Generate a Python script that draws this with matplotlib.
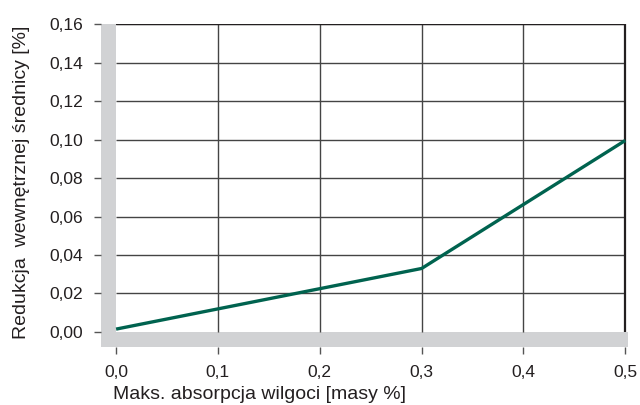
import numpy as np
import matplotlib.pyplot as plt

plt.rcParams['font.family'] = ['Liberation Sans', 'DejaVu Sans']

# data
absorpcja = [0.0, 0.3, 0.5]
redukcja = [0.0015, 0.033, 0.0995]
xticks = [0.0, 0.1, 0.2, 0.3, 0.4, 0.5]
yticks = [0.0, 0.02, 0.04, 0.06, 0.08, 0.10, 0.12, 0.14, 0.16]

txt = '#231f20'
grey = '#d1d2d4'
green = '#00634f'

fig = plt.figure(figsize=(6.4, 4.05), dpi=100)
ax = fig.add_axes([0.158, 0.1432, 0.823, 0.7975])

xmin, xmax = -0.0147, 0.5025
ymin, ymax = -0.0078, 0.16
ax.set_xlim(xmin, xmax)
ax.set_ylim(ymin, ymax)

# grey strips along the left and bottom
ax.axvspan(xmin, 0, color=grey, lw=0, zorder=1)
ax.axhspan(ymin, 0, color=grey, lw=0, zorder=1)

# grid drawn by hand so it stays inside the plotting area
ax.hlines(yticks[1:], 0, 0.5, color='#444444', lw=1.0, zorder=2)
ax.vlines(xticks[1:-1], 0, 0.16, color='#444444', lw=1.0, zorder=2)
ax.vlines(0.5, 0, 0.16, color=txt, lw=1.6, zorder=2)
ax.hlines(0.16, 0, 0.5, color=txt, lw=1.6, zorder=2)

ax.plot(absorpcja, redukcja, color=green, lw=2.4, zorder=3, solid_capstyle='butt')

for s in ax.spines.values():
    s.set_visible(False)

ax.set_xticks(xticks)
ax.set_xticklabels([f'{v:.1f}'.replace('.', ',') for v in xticks])
ax.set_yticks(yticks)
ax.set_yticklabels([f'{v:.2f}'.replace('.', ',') for v in yticks])
ax.tick_params(axis='both', colors='#555555', labelcolor=txt, labelsize=12.5,
               length=5, width=1)
ax.tick_params(axis='x', pad=8)
ax.tick_params(axis='y', pad=8)

ax.set_xlabel('Maks. absorpcja wilgoci [masy %]', fontsize=14, color=txt,
              labelpad=4, loc='left')
ax.xaxis.label.set_x(0.022)
ax.set_ylabel('Redukcja  wewnętrznej średnicy [%]', fontsize=14, color=txt, labelpad=14)
ax.yaxis.label.set_y(0.51)

plt.savefig('out.png', dpi=100)
